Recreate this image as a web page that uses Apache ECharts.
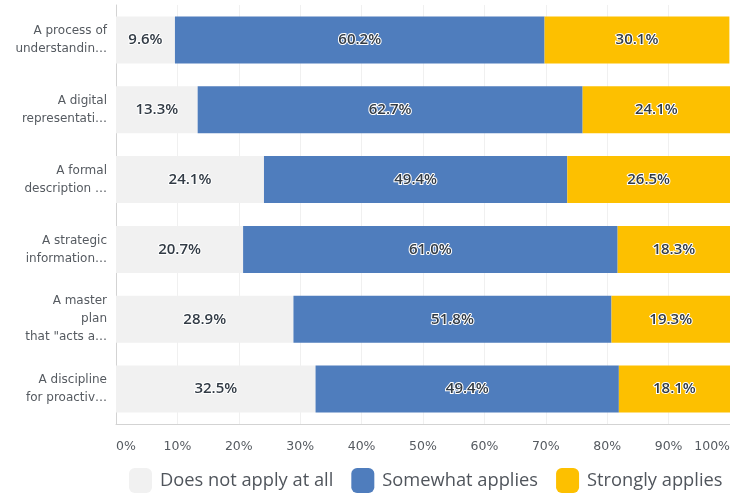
<!DOCTYPE html>
<html>
<head>
<meta charset="utf-8">
<script src="https://cdn.jsdelivr.net/npm/echarts@6/dist/echarts.min.js"></script>
<style>
  html, body { margin: 0; padding: 0; background: #fff; }
  #chart { width: 730px; height: 495px; }
</style>
</head>
<body>
<div id="chart"></div>
<script>
// Survey answers, top row first
const categories = [
  'A process of\nunderstandin\u2026',
  'A digital\nrepresentati\u2026',
  'A formal\ndescription \u2026',
  'A strategic\ninformation\u2026',
  'A master\nplan\nthat "acts a\u2026',
  'A discipline\nfor proactiv\u2026'
];
const seriesNames = ['Does not apply at all', 'Somewhat applies', 'Strongly applies'];
const doesNotApply = [9.6, 13.3, 24.1, 20.7, 28.9, 32.5];
const somewhatApplies = [60.2, 62.7, 49.4, 61.0, 51.8, 49.4];
const stronglyApplies = [30.1, 24.1, 26.5, 18.3, 19.3, 18.1];
const tickValues = [0, 10, 20, 30, 40, 50, 60, 70, 80, 90, 100];

const colors = ['#f1f1f1', '#4f7dbd', '#fdc000'];
const font = '"Open Sans", "Noto Sans", sans-serif';
const axisFont = '"DejaVu Sans", sans-serif';

const valueLabel = {
  show: true,
  position: 'inside',
  formatter: p => p.value.toFixed(1) + '%',
  fontFamily: font,
  fontSize: 15,
  fontWeight: 600,
  color: '#323b45',
  textBorderColor: '#ffffff',
  textBorderWidth: 2
};

function makeSeries(name, data, color) {
  return {
    name: name,
    type: 'bar',
    stack: 'total',
    data: data,
    barWidth: 47,
    itemStyle: { color: color },
    label: valueLabel,
    emphasis: { disabled: true }
  };
}

const chart = echarts.init(document.getElementById('chart'), null, { renderer: 'canvas' });
chart.setOption({
  animation: false,
  color: colors,
  grid: { left: 116, right: 0, top: 5, bottom: 71, outerBoundsMode: 'none', containLabel: false },
  xAxis: {
    type: 'value',
    min: 0,
    max: 100,
    interval: 10,
    axisLine: { show: true, lineStyle: { color: '#d3d3d3', width: 1 } },
    axisTick: { show: false },
    splitLine: { show: true, lineStyle: { color: '#f0f0f0', width: 1 } },
    axisLabel: {
      formatter: v => tickValues.includes(v) ? v + '%' : '',
      fontFamily: axisFont,
      fontSize: 12.5,
      color: '#555a60',
      margin: 16,
      alignMinLabel: 'left',
      alignMaxLabel: 'right'
    }
  },
  yAxis: {
    type: 'category',
    data: categories,
    inverse: true,
    axisLine: { show: true, lineStyle: { color: '#d3d3d3', width: 1 } },
    axisTick: { show: false },
    axisLabel: {
      fontFamily: axisFont,
      fontSize: 12,
      lineHeight: 18,
      color: '#555a60',
      margin: 9,
      align: 'right'
    }
  },
  legend: {
    bottom: 2,
    left: 129,
    padding: 0,
    itemWidth: 23,
    itemHeight: 25,
    itemGap: 18,
    icon: 'roundRect',
    textStyle: { fontFamily: font, fontSize: 18.3, color: '#50555c', padding: [0, 0, 0, 3] },
    data: seriesNames
  },
  series: [
    makeSeries(seriesNames[0], doesNotApply, colors[0]),
    makeSeries(seriesNames[1], somewhatApplies, colors[1]),
    makeSeries(seriesNames[2], stronglyApplies, colors[2])
  ]
});
</script>
</body>
</html>
